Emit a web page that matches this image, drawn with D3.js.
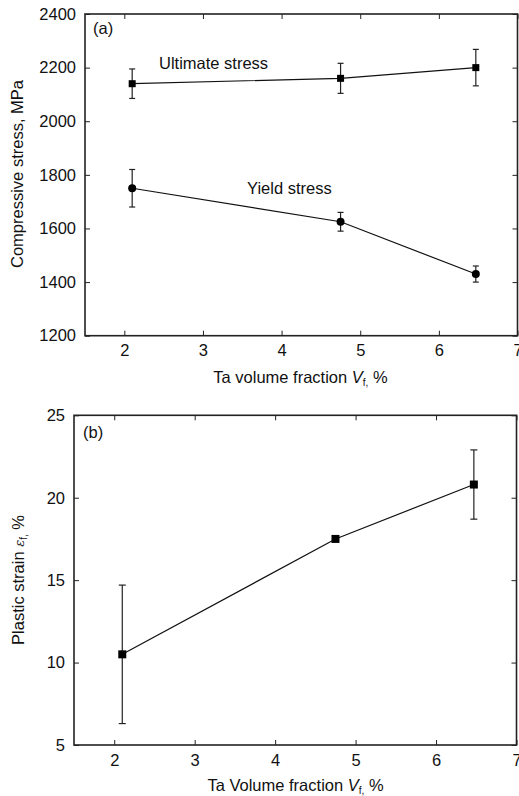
<!DOCTYPE html>
<html>
<head>
<meta charset="utf-8">
<script src="https://cdn.jsdelivr.net/npm/d3@7"></script>
<style>
  html, body { margin: 0; padding: 0; background: #fff; }
  svg { display: block; font-family: "Liberation Sans", Arial, sans-serif; }
</style>
</head>
<body>
<svg id="chart" width="519" height="796"></svg>
<script>
// Ta volume fraction (%) for the three composites
const volumeFraction = [2.1, 4.75, 6.47];

// Panel (a): compressive stress, MPa
const ultimateStress = [2140, 2160, 2200];
const ultimateErr = [55, 56, 68];
const yieldStress = [1750, 1625, 1430];
const yieldErr = [70, 35, 30];

// Panel (b): plastic strain, %
const plasticStrain = [10.5, 17.5, 20.8];
const strainErrLow = [4.2, 0, 2.1];
const strainErrHigh = [4.2, 0, 2.1];

// Tick values
const xTicks = [2, 3, 4, 5, 6, 7];
const stressTicks = [1200, 1400, 1600, 1800, 2000, 2200, 2400];
const strainTicks = [5, 10, 15, 20, 25];

const FS = 16.5;
const svg = d3.select("#chart");

function drawPanel(opts) {
  const { left, right, top, bottom, xDomain, yDomain, yTicks } = opts;
  const x = d3.scaleLinear().domain(xDomain).range([left, right]);
  const y = d3.scaleLinear().domain(yDomain).range([bottom, top]);
  const g = svg.append("g");
  const tickLen = 5;
  const fmt = d3.format("d");

  // inward ticks on all four sides
  const bottomAxis = d3.axisBottom(x).tickValues(xTicks).tickFormat(fmt).tickSizeInner(-tickLen).tickSizeOuter(0).tickPadding(9);
  const topAxis = d3.axisTop(x).tickValues(xTicks).tickSizeInner(-tickLen).tickSizeOuter(0).tickFormat("");
  const leftAxis = d3.axisLeft(y).tickValues(yTicks).tickFormat(fmt).tickSizeInner(-tickLen).tickSizeOuter(0).tickPadding(9);
  const rightAxis = d3.axisRight(y).tickValues(yTicks).tickSizeInner(-tickLen).tickSizeOuter(0).tickFormat("");

  g.append("g").attr("transform", `translate(0,${bottom})`).call(bottomAxis);
  g.append("g").attr("transform", `translate(0,${top})`).call(topAxis);
  g.append("g").attr("transform", `translate(${left},0)`).call(leftAxis);
  g.append("g").attr("transform", `translate(${right},0)`).call(rightAxis);

  g.selectAll(".domain").remove();
  g.selectAll(".tick line").attr("stroke", "#222").attr("stroke-width", 1);
  g.selectAll(".tick text").attr("font-size", FS).attr("fill", "#111")
    .attr("font-family", "'Liberation Sans', Arial, sans-serif");

  // frame
  g.append("rect")
    .attr("x", left).attr("y", top)
    .attr("width", right - left).attr("height", bottom - top)
    .attr("fill", "none").attr("stroke", "#222").attr("stroke-width", 1.6);

  return { x, y, g };
}

function errorBars(g, x, y, xs, ys, lo, hi, cap) {
  xs.forEach((xv, i) => {
    if (lo[i] === 0 && hi[i] === 0) return;
    const cx = x(xv), y1 = y(ys[i] + hi[i]), y0 = y(ys[i] - lo[i]);
    g.append("line").attr("x1", cx).attr("x2", cx).attr("y1", y1).attr("y2", y0)
      .attr("stroke", "#222").attr("stroke-width", 1.2);
    [y1, y0].forEach(yy => g.append("line")
      .attr("x1", cx - cap).attr("x2", cx + cap).attr("y1", yy).attr("y2", yy)
      .attr("stroke", "#222").attr("stroke-width", 1.2));
  });
}

function seriesLine(g, x, y, xs, ys) {
  const line = d3.line().x(d => x(d[0])).y(d => y(d[1]));
  g.append("path").datum(xs.map((v, i) => [v, ys[i]]))
    .attr("d", line).attr("fill", "none").attr("stroke", "#111").attr("stroke-width", 1.2);
}

function squares(g, x, y, xs, ys, s) {
  g.selectAll(null).data(xs.map((v, i) => [v, ys[i]])).enter().append("rect")
    .attr("x", d => x(d[0]) - s / 2).attr("y", d => y(d[1]) - s / 2)
    .attr("width", s).attr("height", s).attr("fill", "#000");
}

function circles(g, x, y, xs, ys, r) {
  g.selectAll(null).data(xs.map((v, i) => [v, ys[i]])).enter().append("circle")
    .attr("cx", d => x(d[0])).attr("cy", d => y(d[1])).attr("r", r).attr("fill", "#000");
}

function xTitle(text, cx, cy) {
  const t = svg.append("text").attr("x", cx).attr("y", cy).attr("text-anchor", "middle")
    .attr("font-size", FS).attr("fill", "#111");
  t.append("tspan").text(text + " ");
  t.append("tspan").attr("font-style", "italic").text("V");
  t.append("tspan").attr("font-size", 10).attr("dy", 3).text("f");
  t.append("tspan").attr("font-size", 10).text(",");
  t.append("tspan").attr("dy", -3).text(" %");
}

// ---------- Panel (a) ----------
const a = drawPanel({ left: 85, right: 517.5, top: 14, bottom: 335.7,
  xDomain: [1.5, 7], yDomain: [1200, 2400], yTicks: stressTicks });

seriesLine(a.g, a.x, a.y, volumeFraction, ultimateStress);
seriesLine(a.g, a.x, a.y, volumeFraction, yieldStress);
errorBars(a.g, a.x, a.y, volumeFraction, ultimateStress, ultimateErr, ultimateErr, 3);
errorBars(a.g, a.x, a.y, volumeFraction, yieldStress, yieldErr, yieldErr, 3);
squares(a.g, a.x, a.y, volumeFraction, ultimateStress, 7);
circles(a.g, a.x, a.y, volumeFraction, yieldStress, 4);

svg.append("text").attr("x", 93).attr("y", 34).attr("font-size", FS).attr("fill", "#111").text("(a)");
svg.append("text").attr("x", 159).attr("y", 69).attr("font-size", FS).attr("fill", "#111").text("Ultimate stress");
svg.append("text").attr("x", 247).attr("y", 194).attr("font-size", FS).attr("fill", "#111").text("Yield stress");

svg.append("text").attr("transform", "translate(23,174) rotate(-90)").attr("text-anchor", "middle")
  .attr("font-size", FS).attr("fill", "#111").text("Compressive stress, MPa");
xTitle("Ta volume fraction", 300.5, 383);

// ---------- Panel (b) ----------
const b = drawPanel({ left: 74, right: 516.5, top: 415.3, bottom: 745,
  xDomain: [1.5, 7], yDomain: [5, 25], yTicks: strainTicks });

seriesLine(b.g, b.x, b.y, volumeFraction, plasticStrain);
errorBars(b.g, b.x, b.y, volumeFraction, plasticStrain, strainErrLow, strainErrHigh, 3.5);
squares(b.g, b.x, b.y, volumeFraction, plasticStrain, 8);

svg.append("text").attr("x", 83).attr("y", 438).attr("font-size", FS).attr("fill", "#111").text("(b)");

const yb = svg.append("text").attr("transform", "translate(24,580) rotate(-90)").attr("text-anchor", "middle")
  .attr("font-size", FS).attr("fill", "#111");
yb.append("tspan").text("Plastic strain ");
yb.append("tspan").attr("font-style", "italic").attr("font-family", "'DejaVu Serif', serif").attr("font-size", 13).text("ε");
yb.append("tspan").attr("font-size", 10).attr("dy", 3).text("f");
yb.append("tspan").attr("font-size", 10).text(",");
yb.append("tspan").attr("dy", -3).text(" %");

xTitle("Ta Volume fraction", 295.5, 790.5);
</script>
</body>
</html>
